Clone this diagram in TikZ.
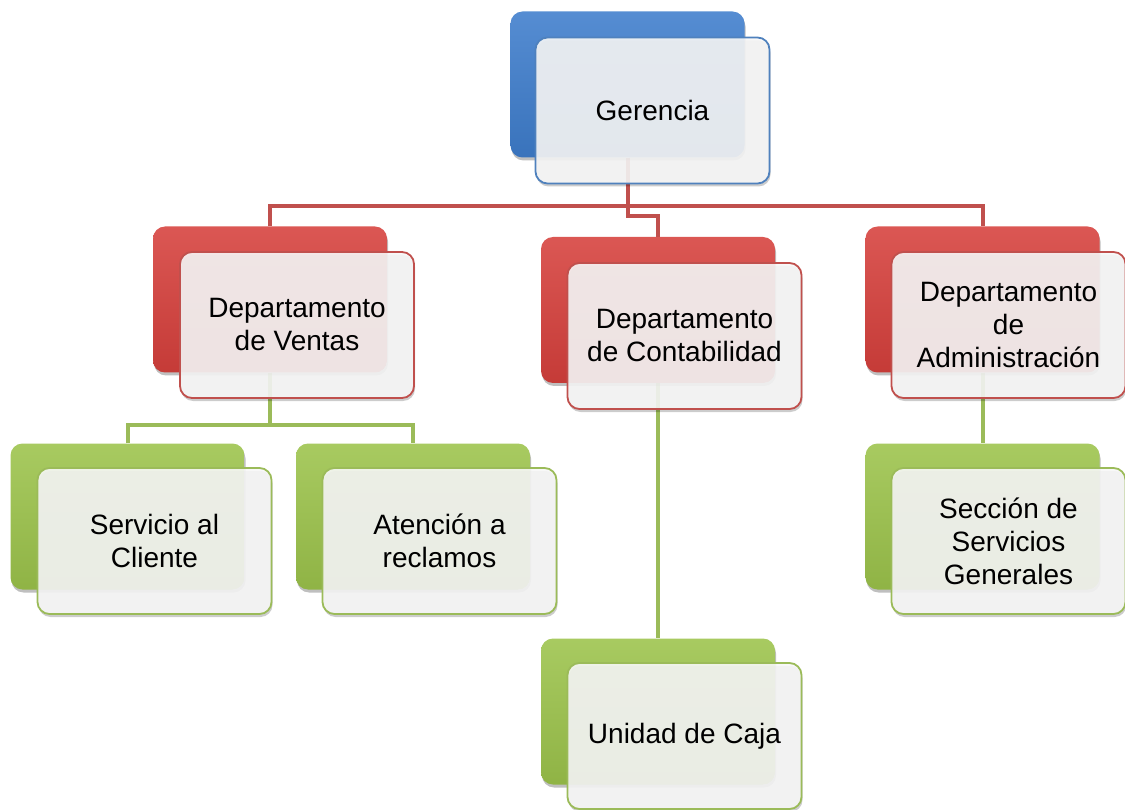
\documentclass[tikz,border=0pt]{standalone}
\usepackage{fontspec}
\setmainfont{Liberation Sans}
\usetikzlibrary{shadows,backgrounds}
\definecolor{accBlue}{HTML}{4F81BD}
\definecolor{accRed}{HTML}{C0504D}
\definecolor{accGreen}{HTML}{9BBB59}
\definecolor{blueMain}{HTML}{3E7DCC}
\definecolor{redMain}{HTML}{D6403C}
\definecolor{greenMain}{HTML}{9CC34B}
\definecolor{frontFill}{HTML}{F7F7F7}
\tikzset{
  backbox/.style={rounded corners=12pt, minimum width=234pt, minimum height=146pt,
     top color=#1!88!white, middle color=#1, bottom color=#1!92!black, draw=none,
     drop shadow={shadow xshift=1pt, shadow yshift=-3pt, opacity=0.25, fill=black}},
  frontbox/.style={rounded corners=12pt, minimum width=234pt, minimum height=146pt,
     draw=#1, line width=1.8pt, fill=frontFill, fill opacity=0.9, text opacity=1,
     align=center, font=\fontsize{28}{33}\selectfont, text=black,
     drop shadow={shadow xshift=1pt, shadow yshift=-3pt, opacity=0.2, fill=black}},
  redline/.style={draw=accRed, line width=4pt},
  greenline/.style={draw=accGreen, line width=4pt},
}
\begin{document}
\begin{tikzpicture}[x=1pt,y=-1pt]
\useasboundingbox (0,0) rectangle (1125,810);
% Gerencia
\node[backbox=blueMain] (gerB) at (627.5,84.5) {};
\node[frontbox=accBlue] (ger) at (652.5,110.5) {Gerencia};
% Ventas
\node[backbox=redMain] (venB) at (270,299.5) {};
\node[frontbox=accRed] (ven) at (297,325) {Departamento\\de Ventas};
% Contabilidad
\node[backbox=redMain] (conB) at (658,310) {};
\node[frontbox=accRed] (con) at (684.5,336) {Departamento\\de Contabilidad};
% Administracion
\node[backbox=redMain] (admB) at (982.5,299.5) {};
\node[frontbox=accRed] (adm) at (1008.5,325) {Departamento\\de\\Administración};
% Servicio
\node[backbox=greenMain] (serB) at (127.5,516.5) {};
\node[frontbox=accGreen] (ser) at (154.5,541) {Servicio al\\Cliente};
% Atencion
\node[backbox=greenMain] (atnB) at (413,516.5) {};
\node[frontbox=accGreen] (atn) at (439.5,541) {Atención a\\reclamos};
% Seccion
\node[backbox=greenMain] (secB) at (982.5,516.5) {};
\node[frontbox=accGreen] (sec) at (1008.5,541) {Sección de\\Servicios\\Generales};
% Unidad
\node[backbox=greenMain] (uniB) at (658,711.5) {};
\node[frontbox=accGreen] (uni) at (684.5,736) {Unidad de Caja};
% connectors
\coordinate (hR) at (0,206);
\coordinate (hR2) at (0,216);
\coordinate (hG) at (0,425);
\begin{scope}[on background layer]
\draw[redline] (venB.north) -- (venB.north |- hR) -- (admB.north |- hR) -- (admB.north);
\draw[redline] (gerB.south) -- (gerB.south |- hR2) -- (conB.north |- hR2) -- (conB.north);
\draw[greenline] (serB.north) -- (serB.north |- hG) -- (atnB.north |- hG) -- (atnB.north);
\draw[greenline] (venB.south) -- (venB.south |- hG);
\draw[greenline] (conB.south) -- (uniB.north);
\draw[greenline] (admB.south) -- (secB.north);
\end{scope}
\end{tikzpicture}
\end{document}
